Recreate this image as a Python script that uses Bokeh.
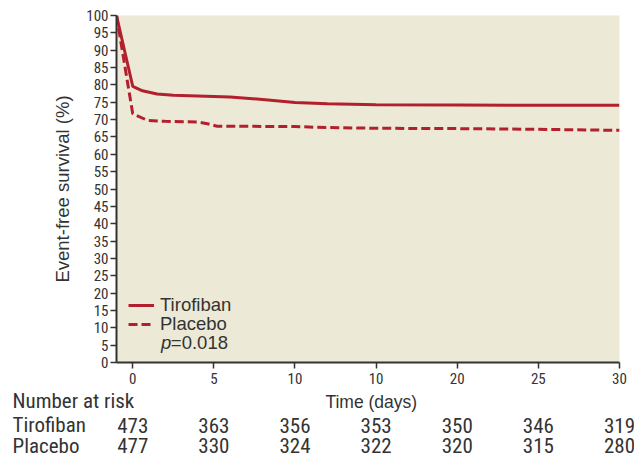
from bokeh.plotting import figure
from bokeh.models import Range1d, Label, Legend, LegendItem, FixedTicker
from bokeh.layouts import column
from bokeh.core.properties import value
from bokeh.embed import file_html
from bokeh.resources import INLINE

# ---- data ----
tiro_days = [-1, 0, 0.6, 1.5, 2.5, 6, 8, 10, 12, 15, 20, 25, 30]
tiro_surv = [100, 79.6, 78.3, 77.4, 77.0, 76.5, 75.8, 74.9, 74.6, 74.3, 74.2, 74.1, 74.1]
plac_days = [-1, 0, 0.9, 2, 4, 4.6, 5.2, 10, 12, 15, 20, 25, 30]
plac_surv = [100, 71.7, 69.8, 69.5, 69.3, 68.8, 68.1, 68.0, 67.7, 67.5, 67.4, 67.2, 66.9]

risk_days = [0, 5, 10, 15, 20, 25, 30]
risk_tiro = [473, 363, 356, 353, 350, 346, 319]
risk_plac = [477, 330, 324, 322, 320, 315, 280]
x_tick_labels = ["0", "5", "10", "10", "20", "25", "30"]
y_ticks = list(range(0, 101, 5))

RED = "#b3202d"
AX = "#333333"
NARROW = "Roboto Condensed, DejaVu Sans Condensed, Roboto"
SANS = "Liberation Sans"

W = 634
LEFT, RIGHT = 116, 15
X0, X1 = -1, 30

p = figure(width=W, height=390, output_backend="svg", toolbar_location=None,
           x_range=Range1d(X0, X1), y_range=Range1d(0, 100),
           min_border_left=LEFT, min_border_right=RIGHT, min_border_top=15,
           min_border_bottom=28)
p.frame_align = False
p.background_fill_color = "#ece9d6"
p.border_fill_color = "white"
p.outline_line_color = None
p.grid.visible = False

r1 = p.line(tiro_days, tiro_surv, line_color=RED, line_width=3)
r2 = p.line(plac_days, plac_surv, line_color=RED, line_width=3, line_dash="9 4")

for ax in (p.xaxis[0], p.yaxis[0]):
    ax.axis_line_color = AX
    ax.axis_line_width = 2
    ax.major_tick_line_color = AX
    ax.major_tick_line_width = 1.5
    ax.major_tick_out = 6
    ax.major_tick_in = 0
    ax.minor_tick_line_color = None
    ax.major_label_text_font = NARROW
    ax.major_label_text_color = AX
    ax.axis_label_text_font = SANS
    ax.axis_label_text_font_style = "normal"
    ax.axis_label_text_color = AX

p.xaxis.ticker = FixedTicker(ticks=risk_days)
p.xaxis.major_label_overrides = {d: s for d, s in zip(risk_days, x_tick_labels)}
p.xaxis.major_label_text_font_size = "15px"
p.xaxis.major_label_standoff = 4

p.yaxis.ticker = FixedTicker(ticks=y_ticks)
p.yaxis.major_label_text_font_size = "15px"
p.yaxis.major_label_standoff = 2
p.yaxis.axis_label = "Event-free survival (%)"
p.yaxis.axis_label_text_font_size = "18.5px"
p.yaxis.axis_label_standoff = 10

leg_style = dict(background_fill_alpha=0, border_line_color=None,
                 label_text_font=SANS, label_text_font_size="18.5px",
                 label_text_color=AX, glyph_width=26, glyph_height=18,
                 label_height=18, padding=4, margin=0, label_standoff=6)
p.add_layout(Legend(items=[LegendItem(label="Tirofiban", renderers=[r1])],
                    location=(12, 46), **leg_style))
p.add_layout(Legend(items=[LegendItem(label="Placebo", renderers=[r2])],
                    location=(12, 27), **leg_style))

p.add_layout(Label(x=1.75, y=5.8, text="p", text_font=SANS, text_font_size="18.5px",
                   text_font_style="italic", text_color=AX, text_baseline="middle"))
p.add_layout(Label(x=2.35, y=5.8, text="=0.018", text_font=SANS, text_font_size="18.5px",
                   text_color=AX, text_baseline="middle"))

# ---- number-at-risk table (same x scale, spanning the full width) ----
scale = (W - RIGHT - LEFT) / (X1 - X0)
tx0 = X0 - LEFT / scale
tx1 = X1 + RIGHT / scale
TH = 69
t = figure(width=W, height=TH, output_backend="svg", toolbar_location=None,
           x_range=Range1d(tx0, tx1), y_range=Range1d(TH, 0),
           x_axis_type=None, y_axis_type=None,
           min_border_left=0, min_border_right=0, min_border_top=0, min_border_bottom=0)
t.frame_align = False
t.outline_line_color = None
t.grid.visible = False
t.background_fill_color = "white"
t.border_fill_color = "white"

name_x = tx0 + 12 / scale
t.text(x=[name_x], y=[10], text=["Number at risk"], text_font=value(NARROW),
       text_font_size="21px", text_color=AX, text_baseline="middle")
t.text(x=[(X0 + X1) / 2 + 0.2], y=[11], text=["Time (days)"], text_font=value(SANS),
       text_font_size="17.5px", text_color=AX, text_baseline="middle", text_align="center")
rows = [("Tirofiban", risk_tiro, 34.5), ("Placebo", risk_plac, 55)]
for name, counts, yy in rows:
    t.text(x=[name_x], y=[yy], text=[name], text_font=value(NARROW),
           text_font_size="21px", text_color=AX, text_baseline="middle")
    t.text(x=risk_days, y=[yy] * len(risk_days), text=[str(c) for c in counts],
           text_font=value(NARROW), text_font_size="21px", text_color=AX,
           text_baseline="middle", text_align="center")

open("out.html", "w").write(file_html(column(p, t, spacing=0), INLINE))
